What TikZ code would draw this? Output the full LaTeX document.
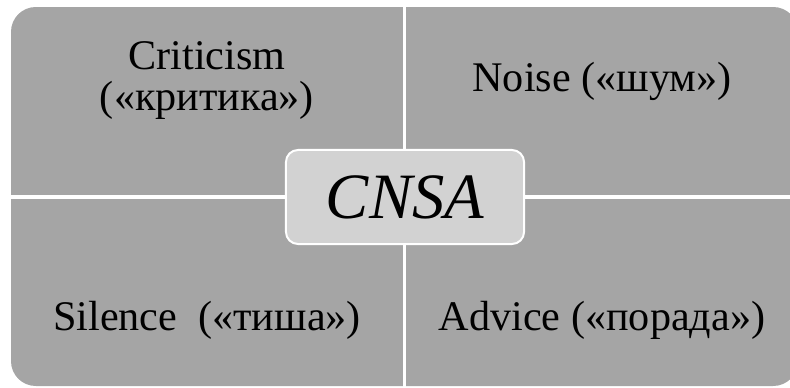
\documentclass[tikz,border=0pt]{standalone}
\usepackage{fontspec}
\setmainfont{Liberation Serif}
\usepackage{xcolor}
\definecolor{quadgray}{HTML}{A5A5A5}
\definecolor{hubgray}{HTML}{D2D2D2}

\begin{document}
\begin{tikzpicture}[x=0.025cm, y=-0.025cm,
	quadtext/.style={font=\fontsize{30}{28.5}\selectfont, align=center, anchor=base},
	hub/.style={draw=white, line width=0.05cm, fill=hubgray, rounded corners=0.3cm,
		minimum width=5.95cm, minimum height=2.35cm, inner sep=0pt,
		font=\fontsize{46}{46}\selectfont\itshape}]
	\useasboundingbox (0,0) rectangle (790,388);
%	background, then the two white gaps between the quadrants
	\fill[quadgray, rounded corners=0.62cm] (11,7) rectangle (798,386);
	\draw[white, line width=0.08cm] (404.5,0) -- (404.5,388);
	\draw[white, line width=0.08cm] (0,197) -- (790,197);
	\node[hub] (cnsa) at (405,197) {CNSA};
	\node[quadtext] (crit) at (207,110) {Criticism\\(«критика»)};
	\node[quadtext] (noise) at (602,91) {Noise («шум»)};
	\node[quadtext] (silence) at (207,330) {Silence\ \ («тиша»)};
	\node[quadtext] (advice) at (602,330) {Advice («порада»)};
\end{tikzpicture}
\end{document}
